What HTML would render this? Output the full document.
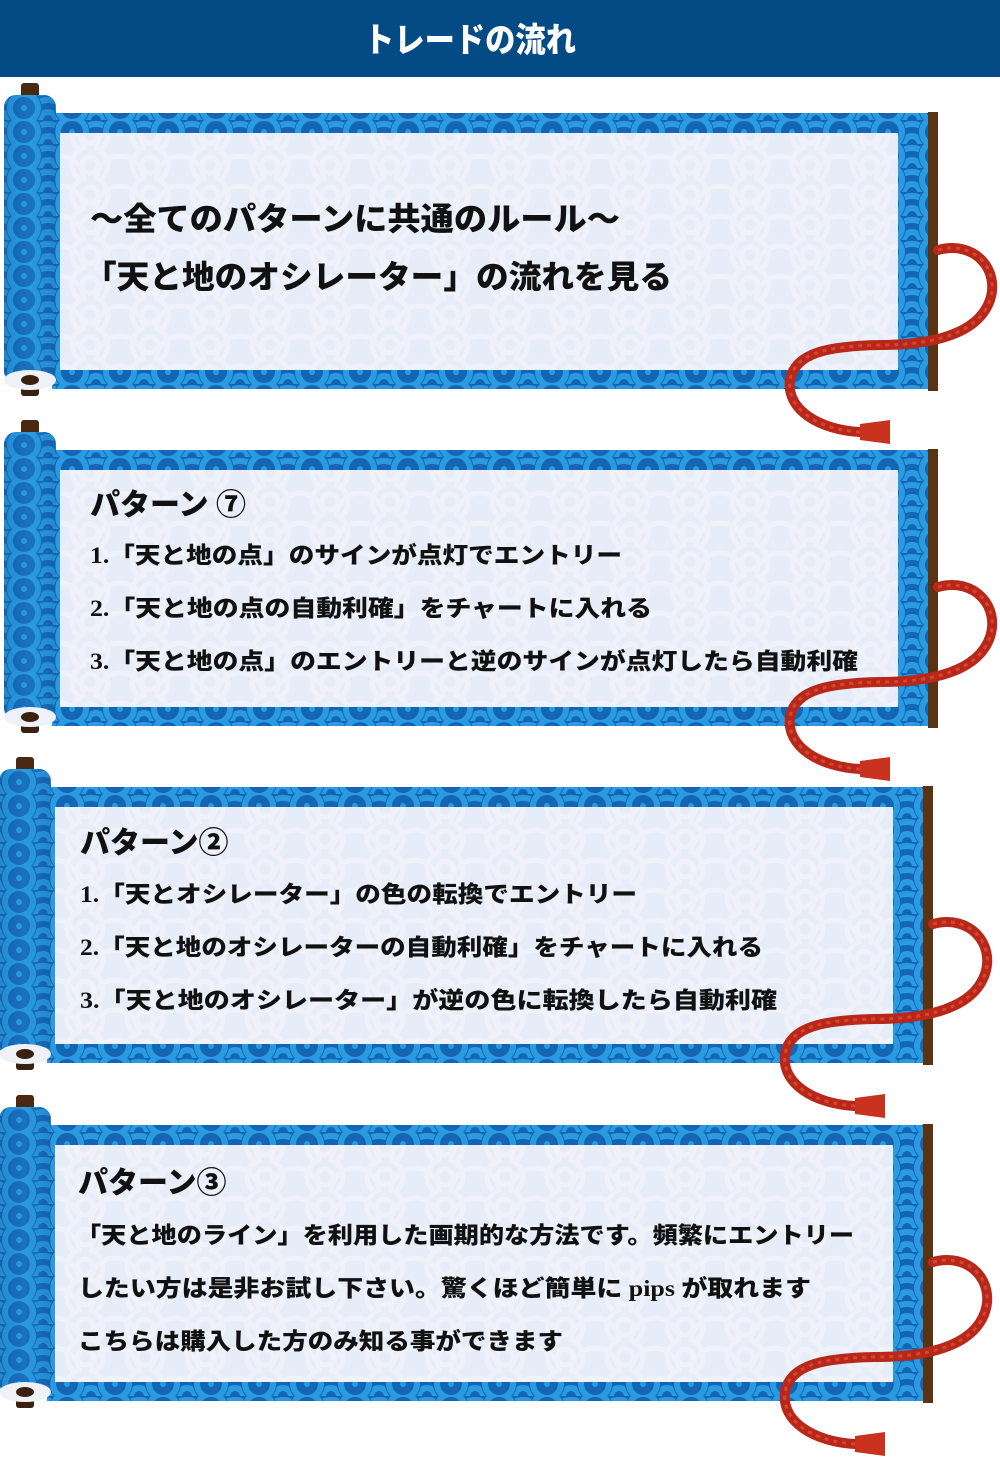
<!DOCTYPE html>
<html><head><meta charset="utf-8"><style>
html,body{margin:0;padding:0;background:#fff;}
svg{display:block}
text{font-family:"Liberation Serif","Noto Sans CJK JP",sans-serif;font-weight:900;fill:#111;}
</style></head><body>
<svg width="1000" height="1476" viewBox="0 0 1000 1476" xmlns="http://www.w3.org/2000/svg">
<defs>
<pattern id="sei" width="48" height="24" patternUnits="userSpaceOnUse">
<rect width="48" height="24" fill="#1565b5"/>
<g fill="none">
<circle cx="0" cy="24" r="20" stroke="#2a9be0" stroke-width="6"/><circle cx="0" cy="24" r="8" stroke="#2a9be0" stroke-width="6"/>
<circle cx="48" cy="24" r="20" stroke="#2a9be0" stroke-width="6"/><circle cx="48" cy="24" r="8" stroke="#2a9be0" stroke-width="6"/>
<circle cx="24" cy="12" r="18" fill="#1565b5" stroke="none"/>
<circle cx="24" cy="12" r="14" stroke="#2a9be0" stroke-width="6"/><circle cx="24" cy="12" r="3" fill="#2a9be0"/>
</g></pattern>
<pattern id="pale" width="60" height="30" patternUnits="userSpaceOnUse">
<rect width="60" height="30" fill="#e6edf8"/>
<g fill="none" stroke="#eff2fa" stroke-width="5">
<circle cx="0" cy="30" r="24"/><circle cx="60" cy="30" r="24"/><circle cx="30" cy="15" r="18"/><circle cx="30" cy="15" r="8"/>
</g></pattern>
<linearGradient id="roll" x1="0" x2="1">
<stop offset="0" stop-color="#0d4f97"/><stop offset="0.5" stop-color="#2a9be0"/><stop offset="1" stop-color="#0d4f97"/></linearGradient>
<g id="scroll">
<rect x="52" y="113" width="878" height="276" fill="url(#sei)"/>
<rect x="60" y="133" width="838" height="237" fill="url(#pale)"/>
<rect x="928" y="112" width="10" height="279" fill="#5a3412"/>
<rect x="21" y="83" width="18" height="16" rx="3" fill="#4a2812"/>
<rect x="21" y="378" width="18" height="18" rx="3" fill="#3a200e"/>
<rect x="4" y="95" width="52" height="288" rx="12" fill="url(#sei)"/>
<rect x="4" y="95" width="52" height="288" rx="12" fill="url(#roll)" opacity="0.25"/>
<ellipse cx="30" cy="380" rx="26" ry="10" fill="#eef2f8"/>
<ellipse cx="30" cy="380" rx="9" ry="5" fill="#3a200e"/>
<path d="M938,250 C975,240 1000,270 990,300 C978,335 930,345 880,345 C830,346 795,352 790,380 C786,410 820,430 860,432" fill="none" stroke="#b8281a" stroke-width="10" stroke-linecap="round"/>
<path d="M938,250 C975,240 1000,270 990,300 C978,335 930,345 880,345 C830,346 795,352 790,380 C786,410 820,430 860,432" fill="none" stroke="#d8452f" stroke-width="3" stroke-dasharray="4 5"/>
<path d="M860,424 L890,420 L890,444 L860,440 Z" fill="#c8321e"/>
</g>
</defs>
<rect x="0" y="0" width="1000" height="77" fill="#044b85"/>
<text x="470" y="52" text-anchor="middle" font-size="34" style="fill:#fff;font-family:'Liberation Sans','Noto Sans CJK JP',sans-serif" textLength="212" lengthAdjust="spacingAndGlyphs">トレードの流れ</text>

<use href="#scroll"/>
<use href="#scroll" transform="translate(0,337)"/>
<use href="#scroll" transform="translate(-5,674)"/>
<use href="#scroll" transform="translate(-5,1012)"/>

<text x="90" y="230" font-size="32" textLength="530" lengthAdjust="spacingAndGlyphs">～全てのパターンに共通のルール～</text>
<text x="84" y="288" font-size="32" textLength="588" lengthAdjust="spacingAndGlyphs">「天と地のオシレーター」の流れを見る</text>

<text x="90" y="515" font-size="30">パターン ⑦</text>
<text x="90" y="563" font-size="23" textLength="532" lengthAdjust="spacingAndGlyphs">1.「天と地の点」のサインが点灯でエントリー</text>
<text x="90" y="616" font-size="23" textLength="562" lengthAdjust="spacingAndGlyphs">2.「天と地の点の自動利確」をチャートに入れる</text>
<text x="90" y="669" font-size="23" textLength="768" lengthAdjust="spacingAndGlyphs">3.「天と地の点」のエントリーと逆のサインが点灯したら自動利確</text>

<text x="80" y="853" font-size="30">パターン②</text>
<text x="80" y="902" font-size="23" textLength="557" lengthAdjust="spacingAndGlyphs">1.「天とオシレーター」の色の転換でエントリー</text>
<text x="80" y="955" font-size="23" textLength="683" lengthAdjust="spacingAndGlyphs">2.「天と地のオシレーターの自動利確」をチャートに入れる</text>
<text x="80" y="1008" font-size="23" textLength="697" lengthAdjust="spacingAndGlyphs">3.「天と地のオシレーター」が逆の色に転換したら自動利確</text>

<text x="78" y="1193" font-size="30">パターン③</text>
<text x="76" y="1243" font-size="23" textLength="778" lengthAdjust="spacingAndGlyphs">「天と地のライン」を利用した画期的な方法です。頻繁にエントリー</text>
<text x="78" y="1296" font-size="23" textLength="733" lengthAdjust="spacingAndGlyphs">したい方は是非お試し下さい。驚くほど簡単に pips が取れます</text>
<text x="78" y="1349" font-size="23" textLength="485" lengthAdjust="spacingAndGlyphs">こちらは購入した方のみ知る事ができます</text>
</svg>
</body></html>
